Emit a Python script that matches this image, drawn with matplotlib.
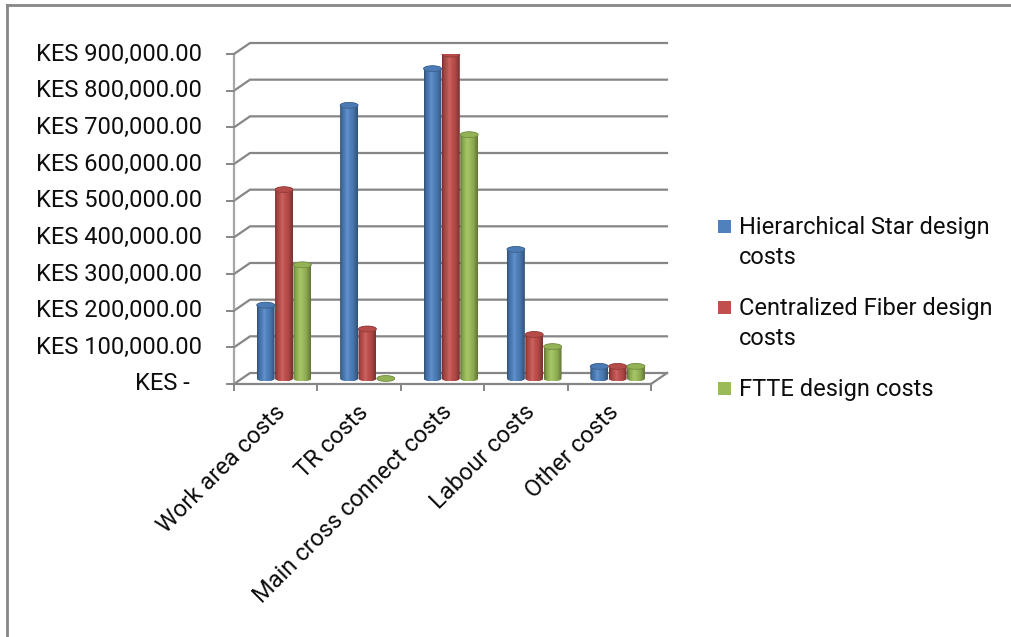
import numpy as np
import matplotlib.pyplot as plt
from matplotlib.patches import Ellipse, Polygon, Rectangle
from matplotlib.lines import Line2D
from matplotlib.colors import to_rgb

# Cost breakdown per design (KES)
categories = ["Work area costs", "TR costs", "Main cross connect costs",
              "Labour costs", "Other costs"]
series_names = ["Hierarchical Star design\ncosts",
                "Centralized Fiber design\ncosts",
                "FTTE design costs"]
star_costs = [200000, 745000, 845000, 352000, 33000]
fiber_costs = [515000, 135000, 885000, 120000, 33000]
ftte_costs = [310000, 0, 665000, 87000, 33000]
series_colors = ["#4F81BD", "#C0504D", "#9BBB59"]
y_ticks = list(range(0, 900001, 100000))

plt.rcParams['font.family'] = ['Roboto', 'DejaVu Sans']
FS = 17
GRID = "#868686"
TXT = "#0d0d0d"

fig = plt.figure(figsize=(10.12, 6.37), dpi=100)
ax = fig.add_axes([234 / 1012, 1 - 384 / 637, 417 / 1012, 330 / 637])
ax.axis("off")

# fake 3D depth of the plot box (in data units)
depth_x = 0.192
depth_y = 30000


def shade(color, t):
    c = np.array(to_rgb(color))
    f = np.interp(t, [0, 0.12, 0.4, 0.75, 1], [0.6, 0.85, 1.08, 0.9, 0.62])
    out = np.where(f[:, None] <= 1, c[None, :] * f[:, None],
                   c[None, :] + (1 - c[None, :]) * (f[:, None] - 1) * 1.6)
    return np.clip(out, 0, 1)


def cylinder(xc, w, base, top, color):
    a = w / 2
    b = 8000
    th = np.linspace(np.pi, 2 * np.pi, 40)
    lower = np.column_stack([xc + a * np.cos(th), base + b * np.sin(th)])
    th = np.linspace(0, np.pi, 40)
    upper = np.column_stack([xc + a * np.cos(th), top + b * np.sin(th)])
    outline = Polygon(np.vstack([lower, upper]), closed=True,
                      facecolor="none", edgecolor="none")
    ax.add_patch(outline)
    grad = shade(color, np.linspace(0, 1, 64))[None, :, :]
    im = ax.imshow(grad, extent=[xc - a, xc + a, base - b, top + b],
                   aspect="auto", interpolation="bilinear", zorder=3)
    im.set_clip_path(outline)
    c = np.array(to_rgb(color))
    ax.add_patch(Ellipse((xc, top), w, 2 * b, facecolor=np.clip(c * 0.95, 0, 1),
                         edgecolor=c * 0.75, lw=0.6, zorder=4))


# back wall / side wall gridlines
for v in y_ticks:
    ax.plot([0, depth_x, 5 + depth_x], [v, v + depth_y, v + depth_y],
            color=GRID, lw=1.6, clip_on=False, zorder=1)
ax.plot([5, 5 + depth_x], [0, depth_y], color=GRID, lw=1.6, clip_on=False, zorder=1)

# front axes
ax.plot([0, 0], [0, y_ticks[-1]], color="#a6a6a6", lw=1.6, clip_on=False, zorder=2)
ax.plot([0, 5], [0, 0], color=GRID, lw=1.6, clip_on=False, zorder=2)
for v in y_ticks:
    ax.plot([-0.08, 0], [v, v], color=GRID, lw=1.4, clip_on=False)
    label = f"KES {v:,.2f}" if v else "KES -"
    ax.text(-0.385 if v else -0.53, v, label, ha="right", va="center",
            fontsize=FS, color=TXT)
for i in range(6):
    ax.plot([i, i], [0, -17000], color=GRID, lw=1.4, clip_on=False)

for i, name in enumerate(categories):
    ax.text(i + 0.47, -45000, name, rotation=45, rotation_mode="anchor",
            ha="right", va="top", fontsize=FS, color=TXT)

# cylinders sit half way into the depth
bar_w = 0.215
for k, (vals, col) in enumerate(zip([star_costs, fiber_costs, ftte_costs],
                                    series_colors)):
    for i, v in enumerate(vals):
        xc = i + 0.6 + (k - 1) * 0.22
        cylinder(xc, bar_w, depth_y / 2, depth_y / 2 + v, col)

ax.set_xlim(0, 5)
ax.set_ylim(0, 900000)

# legend
legend_y = [226, 307, 388]
for name, col, yp in zip(series_names, series_colors, legend_y):
    fig.patches.append(Rectangle((718 / 1012, 1 - (yp + 7) / 637), 13 / 1012, 13 / 637,
                                 transform=fig.transFigure, facecolor=col,
                                 edgecolor="none"))
    fig.text(739 / 1012, 1 - (yp - 10) / 637, name, ha="left", va="top",
             fontsize=FS, linespacing=1.4, color=TXT)

# chart border
fig.add_artist(Line2D([7 / 1012, 7 / 1012], [0, 1 - 5 / 637], color=GRID, lw=2,
                      transform=fig.transFigure))
fig.add_artist(Line2D([7 / 1012, 1], [1 - 5 / 637, 1 - 5 / 637], color=GRID, lw=2,
                      transform=fig.transFigure))

fig.savefig("out.png", dpi=100)
